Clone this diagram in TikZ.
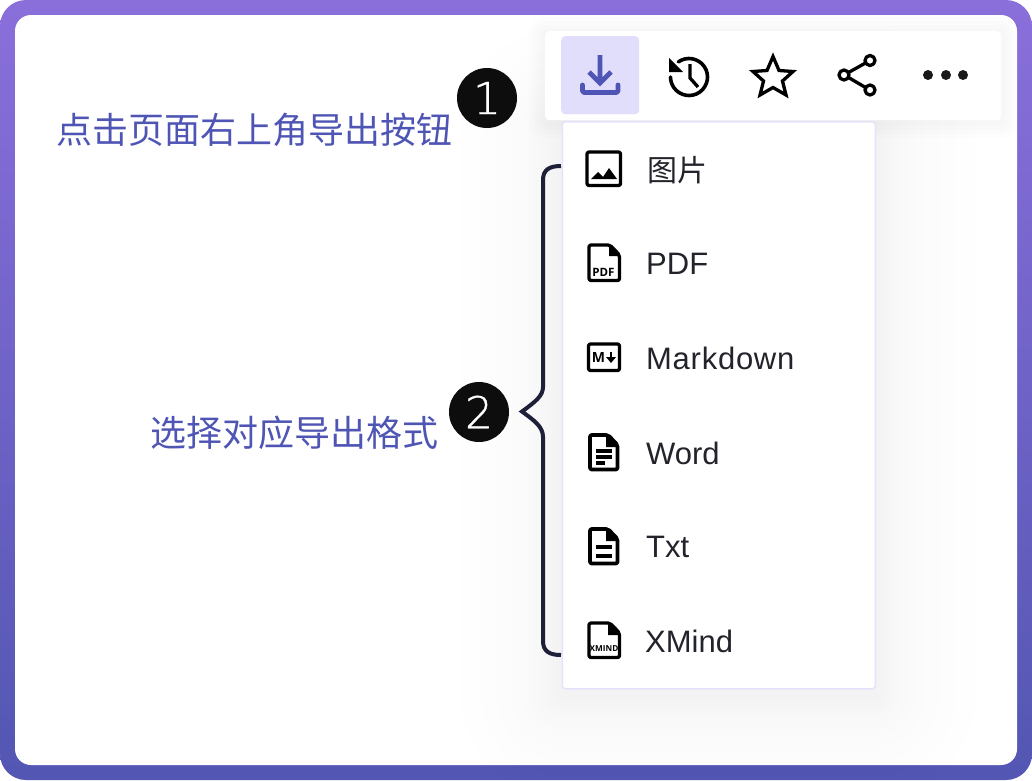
\documentclass[tikz,border=0pt]{standalone}
\usepackage{fontspec}
\setmainfont{Liberation Sans}
\newfontfamily\cjk{Noto Sans CJK SC}
\newfontfamily\numfont[UprightFont=* ExtraLight,FakeBold=0.7]{DejaVu Sans}
\newfontfamily\iconfont{Open Sans}
\usetikzlibrary{positioning}
\definecolor{bluetxt}{HTML}{4F55B5}
\definecolor{hilite}{HTML}{E0DEFA}
\definecolor{menuline}{HTML}{E6E2FC}
\definecolor{inktxt}{HTML}{23242B}
\definecolor{bracecol}{HTML}{1E1F38}
\definecolor{frametop}{HTML}{8A6FDB}
\definecolor{framebot}{HTML}{5356B2}

\begin{document}
\begin{tikzpicture}[x=1pt,y=-1pt,>=latex,font=\fontsize{24}{28}\selectfont]

	\tikzstyle{badge}=[circle,fill=black!95,text=white,minimum size=60pt,inner sep=0pt,font=\numfont\fontsize{44}{48}\selectfont]
	\tikzstyle{hint}=[text=bluetxt,inner sep=0pt,font=\cjk\fontsize{36}{40}\selectfont]
	\tikzstyle{entry}=[text=inktxt,anchor=west,inner sep=0pt,font=\fontsize{31}{36}\selectfont]
	\tikzstyle{icon}=[draw=black,line width=3.3pt,line join=round,line cap=round]
	\tikzstyle{tag}=[inner sep=0pt,font=\iconfont\bfseries\selectfont]

	\useasboundingbox (0,0) rectangle (1032,780);
	\shade[top color=frametop,bottom color=framebot,rounded corners=26pt] (0,0) rectangle (1032,780);
	\fill[white,rounded corners=16pt] (15,15) rectangle (1017,765);

	% soft shadow
	\foreach \s in {100,80,64,50,40,32,26,20,16,12,8,4}
		\fill[black,opacity=0.003,rounded corners=\s pt] (561-\s,121-\s+8) rectangle (875+\s,688+\s+8);
	\foreach \s in {16,12,...,2}
		\fill[black,opacity=0.006,rounded corners=\s pt] (545-\s,31-\s+2) rectangle (1001+\s,120+\s+2);

	% panels
	\node[draw=menuline,fill=white,rounded corners=3pt,line width=1.5pt,minimum width=313pt,minimum height=567pt,anchor=north west] (menu) at (561.5,121) {};
	\node[fill=white,rounded corners=4pt,minimum width=456pt,minimum height=89pt,anchor=north west,inner sep=0pt] (bar) at (545,31) {};
	\node[fill=hilite,rounded corners=4pt,minimum width=78pt,minimum height=78pt,anchor=north west,inner sep=0pt] (dl) at (561,36) {};

	% toolbar icons
	\draw[icon,draw=bluetxt,line width=4.8pt,line cap=butt,line join=miter] (600,55) -- (600,82) (589,72) -- (600,83) -- (611,72);
	\draw[icon,draw=bluetxt,line width=4.8pt,rounded corners=2pt] (582.5,85) -- (582.5,92.5) -- (618,92.5) -- (618,85);

	\draw[icon,line width=3.6pt] (689,77) ++(-125:18.5) arc (-125:180:18.5);
	\fill[black] (669,58) -- (669,72) -- (683,72) -- cycle;
	\draw[icon,line cap=butt,line join=miter] (690,64) -- (690,78) -- (698,87);

	\draw[icon,line join=miter] (773,56.5) -- (779,70.5) -- (793,71.5) -- (782.5,81) -- (786,95) -- (773,87.5) -- (760,95) -- (763.5,81) -- (753,71.5) -- (767,70.5) -- cycle;

	\draw[icon] (844,75) circle (5) (870,60.5) circle (5) (870,90) circle (5);
	\draw[icon,line cap=butt] (848.5,72.5) -- (865.5,63) (848.5,77.5) -- (865.5,87.5);

	\foreach \x in {928,946,963}
		\fill[black!90] (\x,75) circle (5);

	% labels
	\node[hint] (step1) at (254,130) {点击页面右上角导出按钮};
	\node[hint] (step2) at (294.5,433) {选择对应导出格式};
	\node[badge] (num1) at (487,98) {1};
	\node[badge] (num2) at (479,412) {2};

	% brace
	\coordinate (bracetop) at (561,166);
	\coordinate (bracetip) at (522,411.5);
	\coordinate (bracebot) at (561,655);
	\draw[bracecol,line width=4pt] (bracetop) .. controls (549,166) and (543,170) .. (543,180) -- (543,387) .. controls (543,396) and (535,402) .. (bracetip) .. controls (535,421) and (543,427) .. (543,437) -- (543,641) .. controls (543,651) and (549,655) .. (bracebot);

	% menu entries
	\node[entry,font=\cjk\fontsize{30}{34}\selectfont] (pic) at (647,170) {图片};
	\node[entry] (pdf) at (646,264) {PDF};
	\node[entry] (md) at (646,358) {\addfontfeature{LetterSpace=2.4}Markdown};
	\node[entry] (word) at (646,453) {Word};
	\node[entry] (txt) at (646,547) {Txt};
	\node[entry] (xmind) at (645,641) {XMind};

	% menu icons
	\draw[icon,rounded corners=2pt] (587,152) rectangle (620.5,185.5);
	\fill[black] (591,179) -- (598,172) -- (603,177) -- (609,168) -- (617,179) -- cycle;

	\draw[icon,rounded corners=2pt] (589,245) -- (610,245) -- (619.5,255) -- (619.5,280.5) -- (589,280.5) -- cycle;
	\fill[black] (609,245) -- (620,256) -- (609,256) -- cycle;
	\node[tag,font=\iconfont\bfseries\fontsize{11.5}{12}\selectfont] (pdficon) at (603.5,272) {PDF};

	\draw[icon,rounded corners=2pt] (588.5,344) rectangle (619.5,370.5);
	\node[tag,font=\iconfont\bfseries\fontsize{14}{14}\selectfont] (mdicon) at (598.5,357.5) {M};
	\draw[black,line width=2.6pt] (611,352) -- (611,358);
	\fill[black] (606,357) -- (616,357) -- (611,363) -- cycle;

	\draw[icon,line width=3.8pt,rounded corners=2pt] (590,435) -- (608,435) -- (617.5,445) -- (617.5,469.5) -- (590,469.5) -- cycle;
	\fill[black] (606,434) -- (619,447) -- (606,447) -- cycle;
	\draw[black,line width=3.2pt] (596,451) -- (612,451) (596,457) -- (612,457) (596,463) -- (605,463);

	\draw[icon,line width=3.8pt,rounded corners=2pt] (590,529) -- (608,529) -- (617.5,539) -- (617.5,563.5) -- (590,563.5) -- cycle;
	\fill[black] (606,528) -- (619,541) -- (606,541) -- cycle;
	\draw[black,line width=3.8pt] (596,547) -- (612,547) (596,556) -- (612,556);

	\draw[icon,rounded corners=2pt] (589,623) -- (610,623) -- (619.5,633) -- (619.5,657.5) -- (589,657.5) -- cycle;
	\fill[black] (608,622) -- (621,635) -- (608,635) -- cycle;
	\node[tag,font=\iconfont\bfseries\fontsize{8.2}{9}\selectfont] (xmicon) at (604,648.5) {XMIND};

\end{tikzpicture}
\end{document}
